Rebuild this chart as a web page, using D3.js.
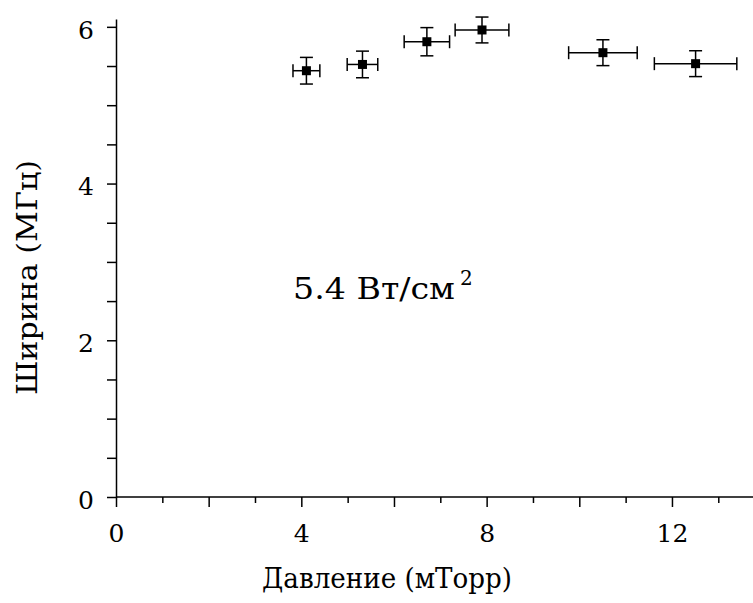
<!DOCTYPE html>
<html>
<head>
<meta charset="utf-8">
<script src="https://cdnjs.cloudflare.com/ajax/libs/d3/7.8.5/d3.min.js"></script>
<style>
  body { margin: 0; background: #fff; }
  .axis path, .axis line { stroke: #000; stroke-width: 1.5; }
  .axis text { font-family: "DejaVu Serif", serif; font-size: 25px; fill: #000; }
  .title { font-family: "DejaVu Serif", serif; fill: #000; }
</style>
</head>
<body>
<div class="canvas"></div>
<script>
// Data
const pressure = [4.11, 5.32, 6.71, 7.90, 10.51, 12.51];
const pressureErr = [0.29, 0.33, 0.49, 0.58, 0.74, 0.89];
const widthMHz = [5.44, 5.52, 5.81, 5.96, 5.67, 5.53];
const widthErr = [0.17, 0.17, 0.18, 0.165, 0.165, 0.165];

const xTicks = [0, 4, 8, 12];
const yTicks = [0, 2, 4, 6];
const xMinor = [1, 2, 3, 5, 6, 7, 9, 10, 11, 13];
const yMinor = [0.5, 1, 1.5, 2.5, 3, 3.5, 4.5, 5, 5.5];

const outerWidth = 753;
const outerHeight = 603;
const margin = {top: 19, right: 0, bottom: 106, left: 116};
const graphWidth = outerWidth - margin.left - margin.right;
const graphHeight = outerHeight - margin.top - margin.bottom;

const svg = d3.select('.canvas')
    .append('svg')
    .attr('width', outerWidth)
    .attr('height', outerHeight);

const graph = svg.append('g')
    .attr('transform', `translate(${margin.left}, ${margin.top})`);

const x = d3.scaleLinear().domain([0, 13.7]).range([0, 13.7 * 46.33]);
const y = d3.scaleLinear().domain([0, 6.1]).range([graphHeight, 0]);

// Axes
const xAxisGroup = graph.append('g')
    .attr('class', 'axis x-axis')
    .attr('transform', `translate(0, ${graphHeight})`);
xAxisGroup.call(d3.axisBottom(x).tickValues(xTicks).tickSize(10).tickSizeOuter(0).tickPadding(17));
xAxisGroup.select('.domain').attr('d', `M0,0H${graphWidth}`);

const xMinorGroup = graph.append('g')
    .attr('class', 'axis')
    .attr('transform', `translate(0, ${graphHeight})`);
xMinorGroup.call(d3.axisBottom(x).tickValues(xMinor).tickSize(6).tickFormat(''));
xMinorGroup.select('.domain').remove();
// even minor ticks are long
xMinorGroup.selectAll('.tick line').attr('y2', d => d % 2 === 0 ? 10 : 6);

const yAxisGroup = graph.append('g')
    .attr('class', 'axis y-axis');
yAxisGroup.call(d3.axisLeft(y).tickValues(yTicks).tickFormat(d3.format('d'))
    .tickSize(9).tickSizeOuter(0).tickPadding(13));
yAxisGroup.selectAll('.tick text').attr('dy', '0.45em');

const yMinorGroup = graph.append('g')
    .attr('class', 'axis');
yMinorGroup.call(d3.axisLeft(y).tickValues(yMinor).tickSize(9).tickFormat(''));
yMinorGroup.select('.domain').remove();

// Error bars
const cap = 6.5;
const points = graph.append('g')
    .attr('stroke', '#000')
    .attr('stroke-width', 1.5);

pressure.forEach((p, i) => {
    const cx = x(p), cy = y(widthMHz[i]);
    const x1 = x(p - pressureErr[i]), x2 = x(p + pressureErr[i]);
    const y1 = y(widthMHz[i] - widthErr[i]), y2 = y(widthMHz[i] + widthErr[i]);
    const g = points.append('g');
    g.append('line').attr('x1', x1).attr('x2', x2).attr('y1', cy).attr('y2', cy);
    g.append('line').attr('x1', x1).attr('x2', x1).attr('y1', cy - cap).attr('y2', cy + cap);
    g.append('line').attr('x1', x2).attr('x2', x2).attr('y1', cy - cap).attr('y2', cy + cap);
    g.append('line').attr('x1', cx).attr('x2', cx).attr('y1', y1).attr('y2', y2);
    g.append('line').attr('x1', cx - cap).attr('x2', cx + cap).attr('y1', y1).attr('y2', y1);
    g.append('line').attr('x1', cx - cap).attr('x2', cx + cap).attr('y1', y2).attr('y2', y2);
    g.append('rect')
        .attr('x', cx - 4.5).attr('y', cy - 4.5)
        .attr('width', 9).attr('height', 9)
        .attr('fill', '#000').attr('stroke', 'none');
});

// Axis titles
svg.append('text')
    .attr('class', 'title')
    .attr('x', 262)
    .attr('y', 588)
    .attr('textLength', 250)
    .attr('lengthAdjust', 'spacingAndGlyphs')
    .style('font-size', '27px')
    .text('Давление (мТорр)');

svg.append('text')
    .attr('class', 'title')
    .attr('transform', 'translate(37, 395) rotate(-90)')
    .attr('textLength', 235)
    .attr('lengthAdjust', 'spacingAndGlyphs')
    .style('font-size', '28px')
    .text('Ширина (МГц)');

// Annotation
svg.append('text')
    .attr('class', 'title')
    .attr('x', 293)
    .attr('y', 299)
    .attr('textLength', 162)
    .attr('lengthAdjust', 'spacingAndGlyphs')
    .style('font-size', '30px')
    .text('5.4 Вт/см');

svg.append('text')
    .attr('class', 'title')
    .attr('x', 460)
    .attr('y', 285)
    .style('font-size', '20px')
    .text('2');
</script>
</body>
</html>
